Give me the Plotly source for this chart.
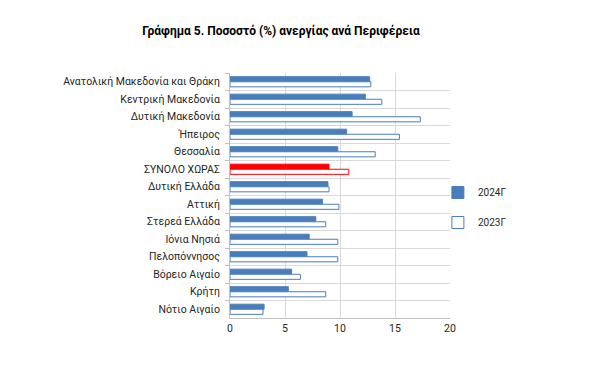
import plotly.graph_objects as go

regions = ["Ανατολική Μακεδονία και Θράκη", "Κεντρική Μακεδονία", "Δυτική Μακεδονία",
           "Ήπειρος", "Θεσσαλία", "ΣΥΝΟΛΟ ΧΩΡΑΣ", "Δυτική Ελλάδα", "Αττική",
           "Στερεά Ελλάδα", "Ιόνια Νησιά", "Πελοπόννησος", "Βόρειο Αιγαίο", "Κρήτη", "Νότιο Αιγαίο"]
v2024 = [12.7, 12.3, 11.1, 10.6, 9.8, 9.0, 8.9, 8.4, 7.8, 7.2, 7.0, 5.6, 5.3, 3.1]
v2023 = [12.8, 13.8, 17.3, 15.4, 13.2, 10.8, 9.0, 9.9, 8.7, 9.8, 9.8, 6.4, 8.7, 3.0]
xticks = [0, 5, 10, 15, 20]

BLUE = "#4a7ebb"
RED = "#ff0000"
fill24 = [RED if r == "ΣΥΝΟΛΟ ΧΩΡΑΣ" else BLUE for r in regions]
line23 = [RED if r == "ΣΥΝΟΛΟ ΧΩΡΑΣ" else BLUE for r in regions]

# page body has an 8px default margin; size the figure so the plot lands where the reference has it
W, H = 592, 357

fig = go.Figure()
fig.add_trace(go.Bar(y=regions, x=v2024, orientation="h", name="2024Γ",
                     legendgroup="a",
                     marker=dict(color=fill24, line=dict(color=fill24, width=1))))
fig.add_trace(go.Bar(y=regions, x=v2023, orientation="h", name="2023Γ",
                     legendgroup="b",
                     marker=dict(color="white", line=dict(color=line23, width=1))))

fig.update_layout(
    width=W, height=H,
    margin=dict(l=222, r=150, t=65, b=47),
    paper_bgcolor="white", plot_bgcolor="white",
    font=dict(family="Roboto, Noto Sans, sans-serif", size=10.5, color="#262626"),
    title=dict(text="<b>Γράφημα 5. Ποσοστό (%) ανεργίας ανά Περιφέρεια</b>",
               x=(281 - 8) / W, xanchor="center", y=1 - 23 / H, yanchor="middle", yref="container",
               font=dict(size=12, color="#000000")),
    barmode="group", bargap=0.42, bargroupgap=0,
    showlegend=True,
    legend=dict(x=0.945, xanchor="left", y=0.451, yanchor="middle",
                traceorder="grouped", tracegroupgap=11,
                font=dict(size=10, color="#262626"), bgcolor="rgba(0,0,0,0)",
                itemwidth=30),
    xaxis=dict(range=[0, 20], tickvals=xticks, showgrid=True, gridcolor="#d9d9d9",
               gridwidth=1, zeroline=False, showline=True, linecolor="#bfbfbf",
               ticks="", fixedrange=True),
    yaxis=dict(type="category", categoryorder="array", categoryarray=regions,
               autorange="reversed", tickson="boundaries", showgrid=True,
               gridcolor="#d9d9d9", showline=True, linecolor="#bfbfbf",
               ticks="outside", ticklen=4, tickcolor="#bfbfbf", ticklabelstandoff=7),
)

fig.write_html("out.html")
